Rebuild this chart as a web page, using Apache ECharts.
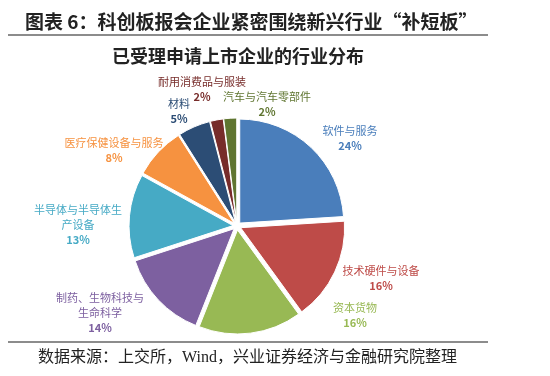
<!DOCTYPE html>
<html>
<head>
<meta charset="utf-8">
<script src="https://cdn.jsdelivr.net/npm/echarts@6/dist/echarts.min.js"></script>
<style>
  html, body { margin: 0; padding: 0; background: #fff; }
  #chart { width: 550px; height: 376px; }
</style>
</head>
<body>
<div id="chart"></div>
<script>
// 行业分类（顺时针，从12点方向开始）
var industries = ['软件与服务', '技术硬件与设备', '资本货物', '制药、生物科技与生命科学',
  '半导体与半导体生产设备', '医疗保健设备与服务', '材料', '耐用消费品与服装', '汽车与汽车零部件'];
// 占比（%）
var shares = [24, 16, 16, 14, 13, 8, 5, 2, 2];
var sliceColors = ['#4a7ebb', '#be4b48', '#98b954', '#7d60a0', '#46aac5', '#f69240', '#2c4d75', '#772c2a', '#5f7530'];

var cjk = "'Noto Sans CJK SC', sans-serif";

var myChart = echarts.init(document.getElementById('chart'));

// 长名称按8个字换行
function wrapName(name) {
  if (name.length <= 9) return name;
  var out = [];
  for (var i = 0; i < name.length; i += 8) out.push(name.substring(i, i + 8));
  return out.join('\n');
}

// 数据标签摆放位置（仿Excel默认布局，标签中心点）
var labelSpots = [[350, 138], [381, 278], [355, 315], [100, 313], [78, 225],
  [114, 150], [179, 111], [202, 89], [267, 104]];

var labelTexts = industries.map(function (name, i) {
  return {
    type: 'text',
    z: 100,
    x: labelSpots[i][0],
    y: labelSpots[i][1],
    style: {
      text: wrapName(name) + '\n{p|' + shares[i] + '%}',
      fill: sliceColors[i],
      font: '11px ' + cjk,
      lineHeight: 15,
      align: 'center',
      verticalAlign: 'middle',
      rich: {
        p: { fill: sliceColors[i], font: 'bold 11px ' + cjk, lineHeight: 15, align: 'center' }
      }
    }
  };
});

var data = industries.map(function (name, i) {
  return {
    name: name,
    value: shares[i],
    selected: true,
    itemStyle: { color: sliceColors[i] }
  };
});

var option = {
  animation: false,
  title: [{
    text: '图表 6：科创板报会企业紧密围绕新兴行业“补短板”',
    left: 20,
    top: 7,
    textStyle: { fontFamily: cjk, fontSize: 19, fontWeight: 'bold', color: '#222' }
  }, {
    text: '已受理申请上市企业的行业分布',
    left: 107,
    top: 42,
    textStyle: { fontFamily: cjk, fontSize: 18, fontWeight: 'bold', color: '#222' }
  }, {
    text: '数据来源：上交所，Wind，兴业证券经济与金融研究院整理',
    left: 33,
    top: 345,
    textStyle: { fontFamily: "'Liberation Serif', 'Noto Sans CJK SC', serif", fontSize: 16, fontWeight: 'normal', color: '#222' }
  }],
  graphic: [{
    type: 'line',
    shape: { x1: 8, y1: 35, x2: 488, y2: 35 },
    style: { stroke: '#8c8c8c', lineWidth: 2 }
  }, {
    type: 'line',
    shape: { x1: 8, y1: 342, x2: 488, y2: 342 },
    style: { stroke: '#8c8c8c', lineWidth: 2 }
  }].concat(labelTexts),
  series: [{
    type: 'pie',
    center: [237, 226],
    radius: 104,
    startAngle: 90,
    clockwise: true,
    selectedMode: 'multiple',
    selectedOffset: 4,
    itemStyle: { borderColor: '#fff', borderWidth: 1 },
    select: { itemStyle: { borderColor: '#fff', borderWidth: 1 } },
    emphasis: { disabled: true },
    label: { show: false },
    labelLine: { show: false },
    data: data
  }]
};

myChart.setOption(option);
window.addEventListener('resize', function () {
  myChart.resize();
});
</script>
</body>
</html>
